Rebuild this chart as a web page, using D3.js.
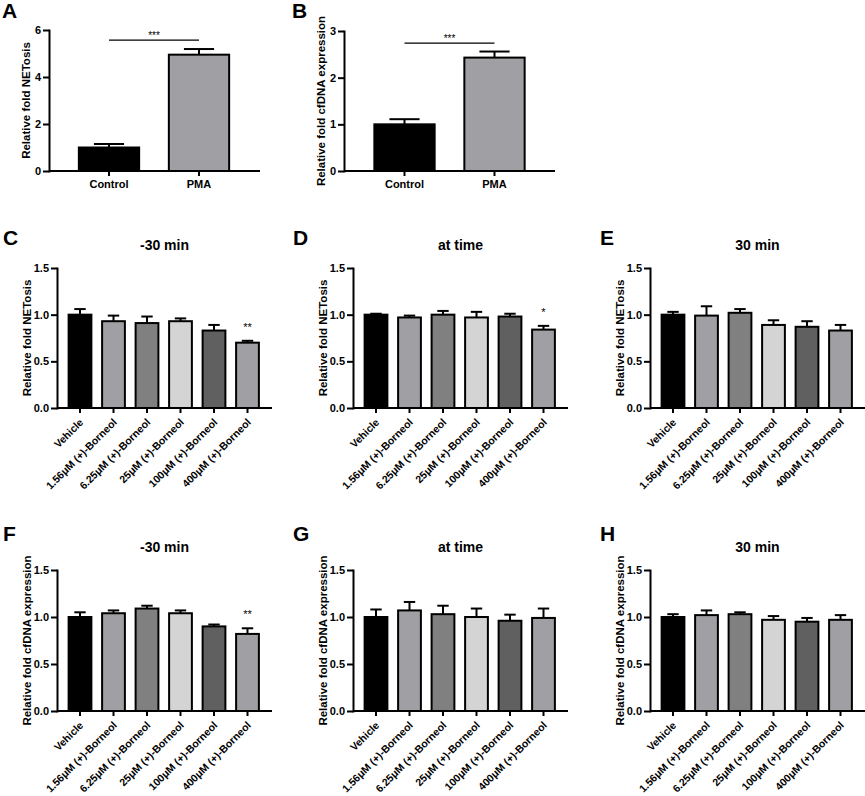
<!DOCTYPE html>
<html>
<head>
<meta charset="utf-8">
<script src="https://cdn.jsdelivr.net/npm/d3@7"></script>
<style>
    body { margin: 0; background: #fff; }
    svg { display: block; font-family: "Liberation Sans", Arial, sans-serif; font-weight: bold; }
</style>
</head>
<body>
<div id="chart"></div>
<script>
// ---- data ----
const abGroups = ["Control", "PMA"];
const netosisA = [1.0, 4.95];
const netosisAErr = [0.15, 0.24];
const cfdnaB = [1.0, 2.43];
const cfdnaBErr = [0.11, 0.13];
const sigLineA = 5.57;
const sigLineB = 2.74;

const groups = ["Vehicle", "1.56μM (+)-Borneol", "6.25μM (+)-Borneol", "25μM (+)-Borneol", "100μM (+)-Borneol", "400μM (+)-Borneol"];

const netosisMinus30 = [1.0, 0.93, 0.91, 0.93, 0.83, 0.70];
const netosisMinus30Err = [0.06, 0.06, 0.07, 0.03, 0.06, 0.02];
const netosisAtTime = [1.0, 0.97, 1.0, 0.97, 0.98, 0.84];
const netosisAtTimeErr = [0.01, 0.02, 0.04, 0.06, 0.03, 0.04];
const netosisPlus30 = [1.0, 0.99, 1.02, 0.89, 0.87, 0.83];
const netosisPlus30Err = [0.03, 0.10, 0.04, 0.05, 0.06, 0.06];

const cfdnaMinus30 = [1.0, 1.04, 1.09, 1.04, 0.90, 0.82];
const cfdnaMinus30Err = [0.05, 0.03, 0.03, 0.03, 0.02, 0.06];
const cfdnaAtTime = [1.0, 1.07, 1.03, 1.0, 0.96, 0.99];
const cfdnaAtTimeErr = [0.08, 0.09, 0.09, 0.09, 0.065, 0.10];
const cfdnaPlus30 = [1.0, 1.02, 1.03, 0.97, 0.95, 0.97];
const cfdnaPlus30Err = [0.03, 0.05, 0.02, 0.04, 0.04, 0.05];

const sigMinus30 = ["", "", "", "", "", "**"];
const sigAtTime = ["", "", "", "", "", "*"];
const sigNone = ["", "", "", "", "", ""];

const ticksA = [0, 2, 4, 6];
const ticksB = [0, 1, 2, 3];
const ticksTime = [0, 0.5, 1.0, 1.5];

// ---- drawing ----
const W = 865, H = 796;
const svg = d3.select("#chart").append("svg").attr("width", W).attr("height", H);

const abColor = d3.scaleOrdinal().domain(abGroups).range(["#000000", "#a0a0a4"]);
const groupColor = d3.scaleOrdinal().domain(groups)
    .range(["#000000", "#a0a0a4", "#808080", "#d4d4d4", "#606060", "#a0a0a4"]);

function panel(p) {
    const g = svg.append("g");

    const x = d3.scaleBand().domain(p.cats).range([p.bx0, p.bx1])
        .paddingInner(p.pad).paddingOuter(p.pad / 2);
    const y = d3.scaleLinear().domain([0, p.ymax]).range([p.y0, p.yTop]);
    const bw = x.bandwidth();

    // bars
    g.selectAll("rect.bar")
        .data(p.cats)
        .join("rect")
        .attr("class", "bar")
        .attr("x", d => x(d))
        .attr("y", (d, i) => y(p.means[i]))
        .attr("width", bw)
        .attr("height", (d, i) => p.y0 - y(p.means[i]))
        .attr("fill", d => p.color(d))
        .attr("stroke", "#000")
        .attr("stroke-width", 2);

    // error bars (upper only)
    const eb = g.selectAll("g.err").data(p.cats).join("g").attr("class", "err");
    eb.append("line")
        .attr("x1", d => x(d) + bw / 2).attr("x2", d => x(d) + bw / 2)
        .attr("y1", (d, i) => y(p.means[i]))
        .attr("y2", (d, i) => y(p.means[i] + p.errs[i]))
        .attr("stroke", "#000").attr("stroke-width", 2);
    eb.append("line")
        .attr("x1", d => x(d) + bw / 4).attr("x2", d => x(d) + bw * 3 / 4)
        .attr("y1", (d, i) => y(p.means[i] + p.errs[i]))
        .attr("y2", (d, i) => y(p.means[i] + p.errs[i]))
        .attr("stroke", "#000").attr("stroke-width", 2);

    // significance stars over single bars
    if (p.sig) {
        g.selectAll("text.sig").data(p.cats).join("text")
            .attr("class", "sig")
            .attr("x", d => x(d) + bw / 2)
            .attr("y", (d, i) => y(p.means[i] + p.errs[i]) - 10)
            .attr("text-anchor", "middle")
            .style("font-size", "11px")
            .style("font-weight", "normal")
            .text((d, i) => p.sig[i]);
    }

    // significance bracket between two bars
    if (p.sigLine !== undefined) {
        const ly = y(p.sigLine);
        g.append("line")
            .attr("x1", x(p.cats[0]) + bw / 2).attr("x2", x(p.cats[1]) + bw / 2)
            .attr("y1", ly).attr("y2", ly)
            .attr("stroke", "#000").attr("stroke-width", 1.2);
        g.append("text")
            .attr("x", (x(p.cats[0]) + x(p.cats[1]) + bw) / 2)
            .attr("y", ly - 1.5)
            .attr("text-anchor", "middle")
            .style("font-size", "10px")
            .style("font-weight", "normal")
            .text("***");
    }

    // y axis
    const ya = g.append("g")
        .attr("transform", `translate(${p.x0},0)`)
        .call(d3.axisLeft(y).tickValues(p.ticks).tickFormat(p.fmt).tickSize(6).tickSizeOuter(0).tickPadding(2));
    ya.select(".domain").attr("stroke-width", 2).attr("stroke-linecap", "square");
    ya.selectAll(".tick line").attr("stroke-width", 2);
    ya.selectAll(".tick text").style("font-size", "11px").style("font-family", "inherit").attr("fill", "#000");

    // x axis
    const xa = g.append("g")
        .attr("transform", `translate(0,${p.y0})`)
        .call(d3.axisBottom(x).tickSize(5).tickSizeOuter(0).tickPadding(4));
    xa.select(".domain").remove();
    xa.selectAll(".tick line").attr("stroke-width", 2);
    xa.append("line")
        .attr("x1", p.x0).attr("x2", p.x1)
        .attr("stroke", "#000").attr("stroke-width", 2);
    const xt = xa.selectAll(".tick text").style("font-family", "inherit").attr("fill", "#000");
    if (p.rotate) {
        xt.style("font-size", "10.5px")
            .attr("text-anchor", "end")
            .attr("x", 0).attr("y", 0).attr("dy", 0)
            .attr("transform", "translate(4,15) rotate(-45)");
    } else {
        xt.style("font-size", "11px");
    }

    // y axis title
    g.append("text")
        .attr("transform", `translate(${p.ytx},${(p.y0 + p.yTop) / 2}) rotate(-90)`)
        .attr("text-anchor", "middle")
        .attr("dy", "0.35em")
        .style("font-size", "11.5px")
        .text(p.ytitle);

    // panel title
    if (p.title) {
        g.append("text")
            .attr("x", (p.x0 + p.x1) / 2)
            .attr("y", p.ty)
            .attr("text-anchor", "middle")
            .style("font-size", "14px")
            .text(p.title);
    }

    // panel letter
    g.append("text")
        .attr("x", p.lx).attr("y", p.ly)
        .style("font-size", "21px")
        .text(p.letter);
}

// top row: A, B
panel({
    letter: "A", lx: 2, ly: 18,
    x0: 49, x1: 260, bx0: 64, bx1: 244, pad: 0.33,
    y0: 171, yTop: 30, ymax: 6, ticks: ticksA, fmt: d3.format("d"),
    cats: abGroups, means: netosisA, errs: netosisAErr, color: abColor,
    sigLine: sigLineA, ytx: 26, ytitle: "Relative fold NETosis"
});
panel({
    letter: "B", lx: 292, ly: 18,
    x0: 344, x1: 555, bx0: 359.5, bx1: 539.5, pad: 0.33,
    y0: 171, yTop: 31, ymax: 3, ticks: ticksB, fmt: d3.format("d"),
    cats: abGroups, means: cfdnaB, errs: cfdnaBErr, color: abColor,
    sigLine: sigLineB, ytx: 321, ytitle: "Relative fold cfDNA expression"
});

// time-course rows
const colX = [57, 353, 650];
const colLetterX = [3, 293, 600];
const titles = ["-30 min", "at time", "30 min"];

const rows = [
    {
        letters: ["C", "D", "E"], y0: 408, yTop: 268, ty: 250, ly: 245,
        ytitle: "Relative fold NETosis",
        means: [netosisMinus30, netosisAtTime, netosisPlus30],
        errs: [netosisMinus30Err, netosisAtTimeErr, netosisPlus30Err],
        sig: [sigMinus30, sigAtTime, sigNone]
    },
    {
        letters: ["F", "G", "H"], y0: 711, yTop: 570, ty: 552, ly: 541,
        ytitle: "Relative fold cfDNA expression",
        means: [cfdnaMinus30, cfdnaAtTime, cfdnaPlus30],
        errs: [cfdnaMinus30Err, cfdnaAtTimeErr, cfdnaPlus30Err],
        sig: [sigMinus30, sigNone, sigNone]
    }
];

rows.forEach(r => {
    colX.forEach((x0, c) => {
        panel({
            letter: r.letters[c], lx: colLetterX[c], ly: r.ly,
            title: titles[c], ty: r.ty,
            x0: x0, x1: x0 + 215, bx0: x0 + 6.25, bx1: x0 + 207.25, pad: 0.32,
            y0: r.y0, yTop: r.yTop, ymax: 1.5, ticks: ticksTime, fmt: d3.format(".1f"),
            cats: groups, means: r.means[c], errs: r.errs[c], color: groupColor,
            sig: r.sig[c], rotate: true,
            ytx: x0 - 30, ytitle: r.ytitle
        });
    });
});
</script>
</body>
</html>
